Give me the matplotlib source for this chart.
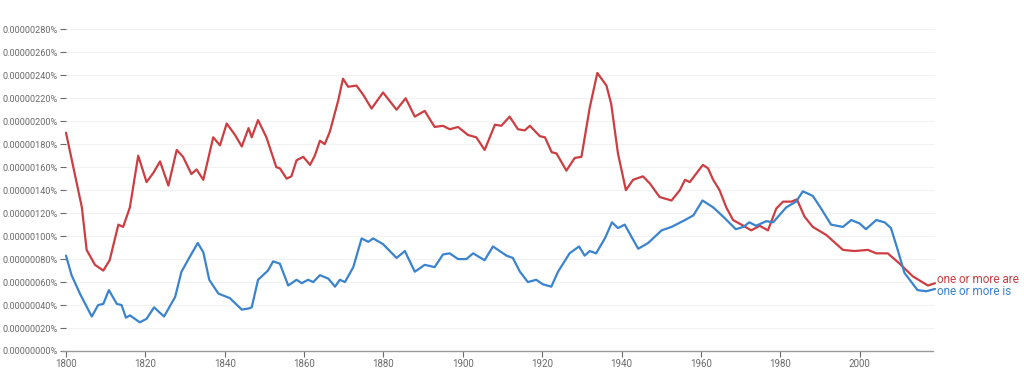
import matplotlib
matplotlib.use('Agg')
import matplotlib.pyplot as plt

# values in units of 1e-8 %  (20 -> 0.00000020%)
are_years = [1800, 1804, 1805.2, 1807.3, 1809.4, 1811, 1813.2, 1814.4, 1816.1, 1818.2,
             1820.3, 1822, 1823.7, 1825.8, 1827.9, 1829.5, 1831.6, 1832.9, 1834.6, 1837.1,
             1838.8, 1840.5, 1842.6, 1844.3, 1846, 1846.8, 1848.4, 1850.5, 1853, 1853.9,
             1855.6, 1856.8, 1858.1, 1859.8, 1861.5, 1862.7, 1864, 1865.2, 1866.5, 1868.6,
             1869.8, 1871.1, 1873.2, 1874.9, 1877, 1879.9, 1883.3, 1885.6, 1887.9, 1890.4,
             1892.9, 1895, 1896.7, 1898.8, 1901.3, 1903.4, 1905.5, 1908.1, 1909.7, 1911.8,
             1913.9, 1915.6, 1916.9, 1919.4, 1920.7, 1922.4, 1923.6, 1926.1, 1928.2, 1929.9,
             1932, 1933.9, 1936.2, 1937.4, 1939.1, 1941.1, 1942.9, 1945.4, 1947.1, 1949.6,
             1952.6, 1954.7, 1956, 1957.2, 1960.5, 1961.8, 1963.1, 1964.7, 1966.4, 1968.1,
             1970.2, 1972.7, 1974.8, 1976.9, 1979, 1980.7, 1982.8, 1984.2, 1986.1, 1988.2,
             1991.6, 1995.8, 1998.7, 2002.1, 2004.2, 2007.1, 2010.1, 2013.4, 2017.2, 2019]
are_vals = [190, 125, 88, 75, 70, 79, 110, 108, 125, 170,
            147, 155, 165, 144, 175, 169, 154, 158, 149, 186,
            179, 198, 188, 178, 194, 186, 201, 186, 160, 159,
            150, 152, 166, 169, 162, 170, 183, 180, 191, 218,
            237, 230, 231, 223, 211, 225, 210, 220, 204, 209,
            195, 196, 193, 195, 188, 186, 175, 197, 196, 204,
            193, 192, 196, 187, 186, 173, 172, 157, 168, 169,
            212, 242, 231, 215, 172, 140, 149, 152, 146, 134,
            131, 140, 149, 147, 162, 159, 149, 140, 125, 114,
            110, 105, 109, 105, 124, 130, 130, 132, 117, 108,
            101, 88, 87, 88, 85, 85, 76, 65, 57, 59]

is_years = [1800, 1801.4, 1803.5, 1806.5, 1808.1, 1809.4, 1810.8, 1812.8, 1814, 1815.1,
            1816.1, 1818.6, 1820.3, 1822.2, 1824.7, 1827.5, 1829.1, 1831.2, 1833.2, 1834.6,
            1836.1, 1838.4, 1841.3, 1844.3, 1846, 1846.8, 1848.4, 1850.9, 1852.2, 1853.9,
            1856, 1858.1, 1859.4, 1861, 1862.3, 1864, 1866.1, 1867.8, 1869, 1870.3,
            1872.4, 1874.5, 1876.2, 1877.4, 1879.9, 1883.3, 1885.4, 1887.9, 1890.4, 1892.9,
            1895, 1896.7, 1898.8, 1900.9, 1902.6, 1905.5, 1907.6, 1911, 1912.6, 1914.4,
            1916.4, 1918.5, 1920.2, 1922.3, 1924, 1926.9, 1929.3, 1930.7, 1932, 1933.6,
            1935.8, 1937.6, 1939.1, 1940.8, 1944.2, 1946.7, 1950.1, 1952.6, 1956, 1958.1,
            1960.4, 1963.1, 1965.6, 1968.8, 1970.7, 1972.2, 1973.9, 1976.5, 1978.2, 1981.5,
            1984, 1985.7, 1988.2, 1990.3, 1992.8, 1995.8, 1997.9, 2000, 2001.6, 2004.2,
            2006.3, 2007.9, 2009.6, 2011.3, 2014.6, 2016.8, 2019]
is_vals = [83, 66, 50, 30, 40, 41, 53, 41, 40, 29,
           31, 25, 28, 38, 30, 47, 69, 82, 94, 86,
           62, 50, 46, 36, 37, 38, 62, 70, 78, 76,
           57, 62, 59, 62, 60, 66, 63, 56, 62, 60,
           73, 98, 95, 98, 93, 81, 87, 69, 75, 73,
           84, 85, 80, 80, 85, 79, 91, 83, 81, 69,
           60, 62, 58, 56, 69, 85, 91, 83, 87, 85,
           98, 112, 107, 110, 89, 94, 105, 108, 114, 118,
           131, 125, 117, 106, 108, 112, 109, 113, 112, 125,
           130, 139, 135, 124, 110, 108, 114, 111, 106, 114,
           112, 107, 88, 68, 53, 52, 54]

y_ticks = list(range(0, 281, 20))
x_ticks = [1800, 1820, 1840, 1860, 1880, 1900, 1920, 1940, 1960, 1980, 2000]
labels = ['one or more are', 'one or more is']

RED = '#cc3e42'
BLUE = '#3a83cf'
GREY = '#6a6a6a'

plt.rcParams['font.family'] = ['Roboto', 'DejaVu Sans']

fig = plt.figure(figsize=(10.24, 3.73), dpi=100)
ax = fig.add_axes([66 / 1024, 22 / 373, (935 - 66) / 1024, (351 - 29.3) / 373])

ax.plot(are_years, are_vals, color=RED, lw=1.6, clip_on=False,
        solid_capstyle='round', solid_joinstyle='round')
ax.plot(is_years, is_vals, color=BLUE, lw=1.6, clip_on=False,
        solid_capstyle='round', solid_joinstyle='round')

ax.set_xlim(1800, 2019)
ax.set_ylim(0, 280)

for v in y_ticks[1:]:
    ax.axhline(v, color='#f2f2f2', lw=0.8, zorder=0)

ax.set_yticks(y_ticks)
ax.set_yticklabels([f'{v * 1e-8:.8f}%' for v in y_ticks])
ax.set_xticks(x_ticks)
ax.set_xticklabels([str(t) for t in x_ticks])
ax.tick_params(axis='y', length=4, width=0.8, color=GREY, labelcolor=GREY,
               labelsize=6.6, pad=2)
ax.tick_params(axis='x', length=4, width=0.8, color=GREY, labelcolor=GREY,
               labelsize=7, pad=2)

for s in ['top', 'right', 'left']:
    ax.spines[s].set_visible(False)
ax.spines['bottom'].set_color('#999999')
ax.spines['bottom'].set_linewidth(1)
ax.spines['bottom'].set_bounds(1799, 2018.5)

ax.text(2019.6, are_vals[-1] + 3, labels[0], color=RED, fontsize=8.5,
        va='center', ha='left', clip_on=False)
ax.text(2019.6, is_vals[-1] - 2, labels[1], color=BLUE, fontsize=8.5,
        va='center', ha='left', clip_on=False)

fig.savefig('out.png', dpi=100)
